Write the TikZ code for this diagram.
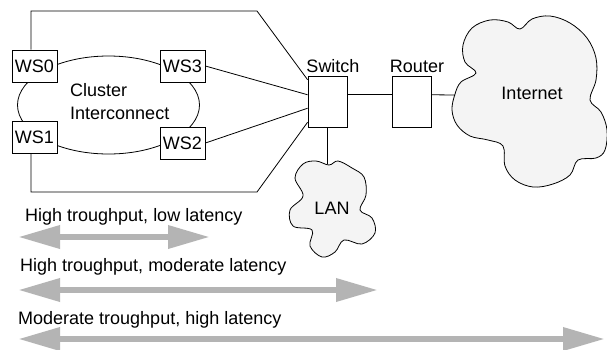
\documentclass[tikz,border=0pt]{standalone}
\usepackage{fontspec}
\setmainfont{Liberation Sans}
\usetikzlibrary{calc,arrows.meta,shapes.geometric}
\definecolor{cloudfill}{HTML}{F4F4F4}
\definecolor{spanarrow}{HTML}{B4B4B4}
\tikzset{
  lbl/.style={font=\fontsize{18}{23}\selectfont, inner sep=0pt},
  box/.style={draw, fill=white, line width=0.8pt, inner sep=0pt, font=\fontsize{18}{20}\selectfont},
  wire/.style={line width=0.8pt},
  cloud/.style={draw, fill=cloudfill, line width=0.8pt},
  span/.style={spanarrow, line width=6.5pt,
    {Triangle[length=42pt 0 0,width=22pt 0 0]}-{Triangle[length=42pt 0 0,width=22pt 0 0]}}
}
\begin{document}
\begin{tikzpicture}[x=1pt,y=-1pt]
\useasboundingbox (0,0) rectangle (607,349);
\fill[white] (0,0) rectangle (607,349);

% cluster interconnect ring
\node[ellipse, draw, line width=0.8pt, minimum width=182pt, minimum height=98pt, inner sep=0pt] (ic) at (108.5,105) {};
\node[lbl, align=left, anchor=west] (ictext) at (70,101.5) {Cluster\\Interconnect};

% workstations
\node[box, minimum width=45pt, minimum height=32pt] (ws0) at (34.5,66) {WS0};
\node[box, minimum width=45pt, minimum height=32pt] (ws1) at (34.5,137) {WS1};
\node[box, minimum width=45pt, minimum height=32pt] (ws3) at (182.5,66) {WS3};
\node[box, minimum width=45pt, minimum height=32pt] (ws2) at (182.5,143) {WS2};

% switch and router
\node[box, minimum width=39pt, minimum height=51pt] (sw) at (327.5,101.5) {};
\node[box, minimum width=39pt, minimum height=51pt] (rt) at (411.5,101.5) {};
\node[lbl] (swl) at (333,66) {Switch};
\node[lbl] (rtl) at (417,66) {Router};

% clouds
\filldraw[cloud] plot[smooth cycle, tension=0.6] coordinates {
 (455,94) (461,82) (476,73) (465,62) (463,45) (472,28) (490,20) (508,22)
 (520,29) (532,19) (550,16) (570,23) (587,38) (596,58) (596,80) (590,100)
 (601,112) (607,130) (605,150) (596,158) (578,160) (570,175) (553,184)
 (533,187) (515,180) (505,166) (503,146) (488,140) (470,136) (457,125) (452,110)};
\node[lbl] (inet) at (532,93) {Internet};
\coordinate (inetL) at (455,95);

\filldraw[cloud] plot[smooth cycle, tension=0.6] coordinates {
 (303,164) (295,178) (303,196) (290,210) (293,226) (312,230) (310,246)
 (322,257) (335,252) (344,240) (362,244) (375,233) (372,218) (360,210)
 (366,195) (364,177) (352,168) (338,161) (329,165) (316,161)};
\node[lbl] (lan) at (332,208) {LAN};
\coordinate (lanT) at (327.5,164);

% switch anchor points
\coordinate (s1) at ($(sw.north west)!0.08!(sw.south west)$);
\coordinate (s2) at ($(sw.north west)!0.37!(sw.south west)$);
\coordinate (s3) at ($(sw.north west)!0.63!(sw.south west)$);
\coordinate (s4) at ($(sw.north west)!0.9!(sw.south west)$);
\coordinate (se) at ($(sw.north east)!0.37!(sw.south east)$);

% enclosure
\coordinate (tl) at (31,11);
\coordinate (tr) at (257,11);
\coordinate (bl) at (31,192);
\coordinate (br) at (257,192);
\draw[wire] (s1) -- (tr) -- (tl) -- (tl |- ws0.north);
\draw[wire] (s4) -- (br) -- (bl) -- (bl |- ws1.south);

% links
\draw[wire] (ws3.east) -- (s2);
\draw[wire] (ws2.east) -- (s3);
\draw[wire] (se) -- (se -| rt.west);
\draw[wire] (se -| rt.east) -- (inetL);
\draw[wire] (sw.south) -- (lanT);

% spans
\node[lbl, anchor=west] (t1) at (25,217) {High troughput, low latency};
\node[lbl, anchor=west] (t2) at (20,267) {High troughput, moderate latency};
\node[lbl, anchor=west] (t3) at (18,320) {Moderate troughput, high latency};
\coordinate (a1l) at (18,237); \coordinate (a1r) at (210,237);
\coordinate (a2l) at (18,290); \coordinate (a2r) at (378,290);
\coordinate (a3l) at (18,339); \coordinate (a3r) at (605,339);
\draw[span] (a1l) -- (a1r);
\draw[span] (a2l) -- (a2r);
\draw[span] (a3l) -- (a3r);
\end{tikzpicture}
\end{document}
